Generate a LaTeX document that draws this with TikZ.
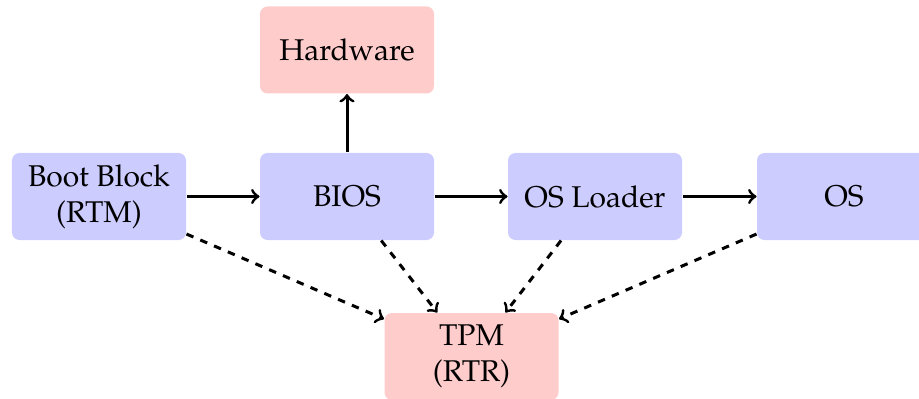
\documentclass[tikz,border=0pt]{standalone}
\usepackage[T1]{fontenc}
\usepackage{mathpazo}
\begin{document}
\begin{tikzpicture}[x=0.4pt,y=-0.4pt,
  box/.style={rounded corners=3pt, minimum width=69.6pt, minimum height=34.8pt,
    inner sep=0pt, align=center, font=\fontsize{12}{14.5}\selectfont},
  bluebox/.style={box, fill=blue!20},
  pinkbox/.style={box, fill=red!20},
  solidarrow/.style={->, line width=1.2pt},
  dasharrow/.style={->, dashed, line width=1.2pt}]
\useasboundingbox (0,0) rectangle (919,399);
\node[bluebox] (boot) at (99,196.5) {Boot Block\\(RTM)};
\node[bluebox] (bios) at (347,196.5) {BIOS};
\node[bluebox] (loader) at (595,196.5) {OS Loader};
\node[bluebox] (os) at (844,196.5) {OS};
\node[pinkbox] (hw) at (347,50) {Hardware};
\node[pinkbox] (tpm) at (471.5,356.5) {TPM\\(RTR)};
\draw[solidarrow] (boot) -- (bios);
\draw[solidarrow] (bios) -- (loader);
\draw[solidarrow] (loader) -- (os);
\draw[solidarrow] (bios) -- (hw);
\draw[dasharrow] (boot) -- (tpm);
\draw[dasharrow] (bios) -- (tpm);
\draw[dasharrow] (loader) -- (tpm);
\draw[dasharrow] (os) -- (tpm);
\end{tikzpicture}
\end{document}
